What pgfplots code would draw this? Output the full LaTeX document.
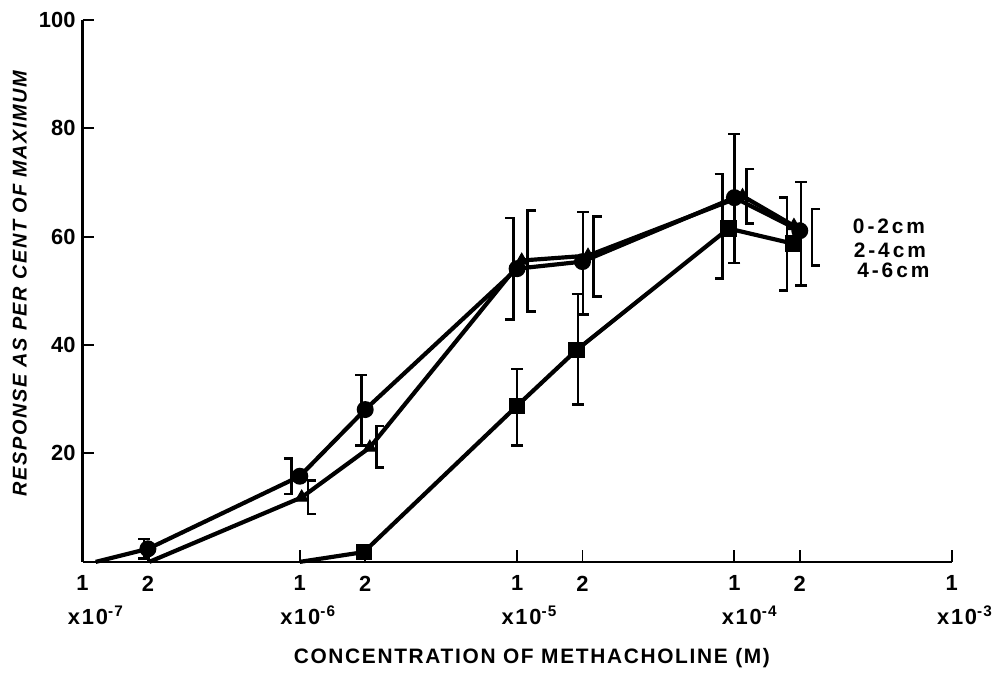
\documentclass[border=0pt]{standalone}
\usepackage{fontspec}
\setmainfont{Liberation Sans}
\newfontfamily\wide[LetterSpace=8]{Liberation Sans}
\newfontfamily\wider[LetterSpace=14]{Liberation Sans}
\usepackage{pgfplots}
\pgfplotsset{compat=1.18}
\begin{document}
\begin{tikzpicture}
\begin{axis}[
  scale only axis, width=437pt, height=272.5pt,
  xmode=log, xmin=1e-7, xmax=1e-3, ymin=0, ymax=100,
  axis x line*=bottom, axis y line*=left,
  xtick={1e-7,2e-7,1e-6,2e-6,1e-5,2e-5,1e-4,2e-4,1e-3},
  xticklabels={\textbf{1},\textbf{2},\textbf{1},\textbf{2},\textbf{1},\textbf{2},\textbf{1},\textbf{2},\textbf{1}},
  minor xtick={},
  ytick={20,40,60,80,100},
  yticklabels={\textbf{20},\textbf{40},\textbf{60},\textbf{80},\textbf{100}},
  xtick align=inside, ytick align=inside, major tick length=6pt,
  tick style={black, line width=1pt},
  axis line style={line width=1.3pt},
  xticklabel style={font=\fontsize{11}{12}\selectfont, yshift=-3.5pt},
  yticklabel style={font=\fontsize{11}{12}\selectfont},
  clip=false,
  unbounded coords=jump,
]
% series lines
\addplot[black, line width=2.1pt, mark=*, mark size=3.2pt, mark indices={2,3,4,5,6,7,8}] coordinates {
(1.15e-7,0) (2e-7,2.4) (1e-6,15.8) (2e-6,28.1) (1e-5,54.1) (2e-5,55.4) (1e-4,67.2) (2e-4,61.1)};
\addplot[black, line width=2.1pt, mark=triangle*, mark size=3.7pt, mark options={line width=0.5pt}, mark indices={2,3,4,5,6,7}] coordinates {
(2.03e-7,0) (1.02e-6,11.9) (2.1e-6,21.1) (1.05e-5,55.6) (2.12e-5,56.5) (1.09e-4,67.5) (1.88e-4,62.0)};
\addplot[black, line width=2.1pt, mark=square*, mark size=3.9pt, mark options={line width=0.5pt}, mark indices={2,3,4,5,6}] coordinates {
(1e-6,0) (1.97e-6,1.8) (1e-5,28.8) (1.88e-5,39.1) (0.94e-4,61.5) (1.87e-4,58.7)};
% error bars with plain caps
\addplot[draw=none, mark=none, error bars/.cd, y dir=both, y explicit,
  error bar style={draw=black, line width=1.2pt},
  error mark=-, error mark options={rotate=90, draw=black, line width=1.2pt, mark size=3pt}] coordinates {
(1.92e-7,2.4) +- (0,1.8)
(1.92e-6,28.0) +- (0,6.5)
(2.01e-5,55.1) +- (0,9.45)
(1e-4,67.0) +- (0,11.9)
(2.03e-4,60.55) +- (0,9.55)
(1.97e-6,1.8) +- (0,1.0)
(1e-5,28.55) +- (0,7.05)
(1.905e-5,39.2) +- (0,10.2)};
% error ranges drawn as brackets ] (0-2 cm and 4-6 cm) and [ (2-4 cm)
\addplot[black, line width=1.3pt, mark=none] coordinates {
(8.44e-7,19.1) (9.18e-7,19.1) (9.18e-7,12.5) (8.44e-7,12.5) (9e-7,nan)
(8.82e-6,63.45) (9.6e-6,63.45) (9.6e-6,44.75) (8.82e-6,44.75) (9e-6,nan)
(8.10e-5,71.6) (8.81e-5,71.6) (8.81e-5,52.3) (8.10e-5,52.3) (8.5e-5,nan)
(1.608e-4,67.2) (1.75e-4,67.2) (1.75e-4,50.1) (1.608e-4,50.1) (1.7e-4,nan)
(1.185e-6,15.0) (1.089e-6,15.0) (1.089e-6,8.8) (1.185e-6,8.8) (1.1e-6,nan)
(2.448e-6,25.1) (2.25e-6,25.1) (2.25e-6,17.4) (2.448e-6,17.4) (2.3e-6,nan)
(1.219e-5,64.8) (1.12e-5,64.8) (1.12e-5,46.2) (1.219e-5,46.2) (1.15e-5,nan)
(2.448e-5,63.7) (2.25e-5,63.7) (2.25e-5,49.0) (2.448e-5,49.0) (2.3e-5,nan)
(1.235e-4,72.5) (1.135e-4,72.5) (1.135e-4,62.4) (1.235e-4,62.4) (1.2e-4,nan)
(2.481e-4,65.1) (2.28e-4,65.1) (2.28e-4,54.7) (2.481e-4,54.7)};
% labels
\coordinate (bl) at (rel axis cs:0,0);
\coordinate (tr) at (rel axis cs:1,1);
\node[anchor=base west, inner sep=0pt, font=\bfseries\wide\fontsize{11}{12}\selectfont] at ([xshift=-7.5pt, yshift=-31.5pt]axis cs:1e-7,0) {x10\textsuperscript{-7}};
\node[anchor=base west, inner sep=0pt, font=\bfseries\wide\fontsize{11}{12}\selectfont] at ([xshift=-10pt, yshift=-31.5pt]axis cs:1e-6,0) {x10\textsuperscript{-6}};
\node[anchor=base west, inner sep=0pt, font=\bfseries\wide\fontsize{11}{12}\selectfont] at ([xshift=-8pt, yshift=-31.5pt]axis cs:1e-5,0) {x10\textsuperscript{-5}};
\node[anchor=base west, inner sep=0pt, font=\bfseries\wide\fontsize{11}{12}\selectfont] at ([xshift=-6.5pt, yshift=-31.5pt]axis cs:1e-4,0) {x10\textsuperscript{-4}};
\node[anchor=base west, inner sep=0pt, font=\bfseries\wide\fontsize{11}{12}\selectfont] at ([xshift=-7.5pt, yshift=-31.5pt]axis cs:1e-3,0) {x10\textsuperscript{-3}};
\node[font=\bfseries\wide\fontsize{10.5}{12}\selectfont] at ([yshift=-48.5pt]rel axis cs:0.517,0) {CONCENTRATION OF METHACHOLINE (M)};
\node[rotate=90, font=\bfseries\itshape\wide\fontsize{10}{11}\selectfont] at ([xshift=-31.5pt]rel axis cs:0,0.514) {RESPONSE AS PER CENT OF MAXIMUM};
\node[anchor=west, inner sep=0pt, font=\bfseries\wider\fontsize{10.5}{12}\selectfont] at (rel axis cs:0.886,0.620) {0-2cm};
\node[anchor=west, inner sep=0pt, font=\bfseries\wider\fontsize{10.5}{12}\selectfont] at (rel axis cs:0.887,0.574) {2-4cm};
\node[anchor=west, inner sep=0pt, font=\bfseries\wider\fontsize{10.5}{12}\selectfont] at (rel axis cs:0.891,0.538) {4-6cm};
\end{axis}
\path ([xshift=-41.5pt,yshift=-53.5pt]bl) rectangle ([xshift=18pt,yshift=10pt]tr);
\end{tikzpicture}
\end{document}
